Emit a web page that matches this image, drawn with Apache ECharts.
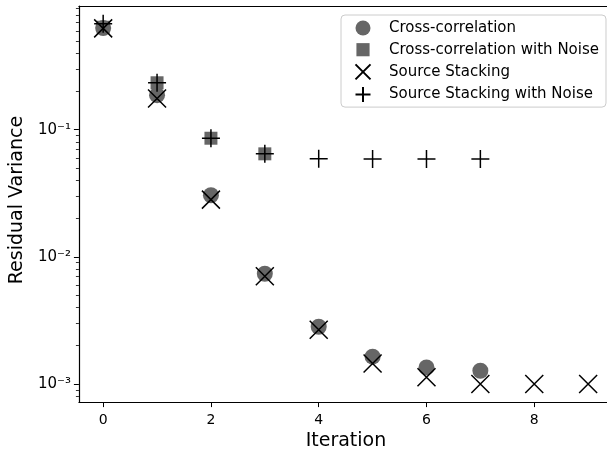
<!DOCTYPE html>
<html>
<head>
<meta charset="utf-8">
<script src="https://cdn.jsdelivr.net/npm/echarts@6/dist/echarts.min.js"></script>
<style>html,body{margin:0;padding:0;background:#fff;}#c{width:607px;height:456px;}</style>
</head>
<body>
<div id="c"></div>
<script>
const iterations = [0, 1, 2, 3, 4, 5, 6, 7, 8, 9];
const crossCorr = [0.63, 0.187, 0.0305, 0.00736, 0.00282, 0.00164, 0.00135, 0.00127];
const crossCorrNoise = [0.64, 0.234, 0.0857, 0.0646];
const sourceStack = [0.627, 0.176, 0.0282, 0.00703, 0.00267, 0.00145, 0.00113, 0.00100, 0.00100, 0.00100];
const sourceStackNoise = [0.682, 0.234, 0.0857, 0.0646, 0.0590, 0.0588, 0.0588, 0.0588];
const seriesNames = ['Cross-correlation', 'Cross-correlation with Noise', 'Source Stacking', 'Source Stacking with Noise'];
const xTickValues = [0, 2, 4, 6, 8];
const yTickValues = [0.001, 0.01, 0.1];
const yTickLabels = ['10\u207B\u00B3', '10\u207B\u00B2', '10\u207B\u00B9'];
const yMinorTickValues = [0.0008, 0.0009, 0.002, 0.003, 0.004, 0.005, 0.006, 0.007, 0.008, 0.009,
  0.02, 0.03, 0.04, 0.05, 0.06, 0.07, 0.08, 0.09, 0.2, 0.3, 0.4, 0.5, 0.6, 0.7, 0.8, 0.9];

function pairs(vals) { return vals.map((v, i) => [iterations[i], v]); }

const FONT = 'DejaVu Sans';
const XPATH = 'path://M0,0L10,10M10,0L0,10';
const PPATH = 'path://M5,0L5,10M0,5L10,5';
const SPATH = 'path://M0,0M0.8,0.8L12.2,0.8L12.2,12.2L0.8,12.2ZM13,13';

function yLabel(v) {
  let best = 0, bd = Infinity;
  yTickValues.forEach((t, i) => {
    const d = Math.abs(Math.log10(Math.abs(v) || 1e-12) - Math.log10(t));
    const d2 = Math.abs(v - Math.log10(t));
    const dd = Math.min(d, d2);
    if (dd < bd) { bd = dd; best = i; }
  });
  return yTickLabels[best];
}

const XMIN = -0.45, XMAX = 9.35, YMIN = 0.00072, YMAX = 0.94;

const chart = echarts.init(document.getElementById('c'), null, { renderer: 'canvas' });
chart.setOption({
  animation: false,
  backgroundColor: '#fff',
  textStyle: { fontFamily: FONT },
  grid: { left: 78, top: 6, right: 0, bottom: 51, show: false, containLabel: false },
  legend: {
    orient: 'vertical', left: 341, top: 15,
    padding: [5, 7, 4, 13.5],
    itemWidth: 15, itemHeight: 15, itemGap: 5.7,
    borderColor: '#cccccc', borderWidth: 1, borderRadius: 4,
    backgroundColor: 'rgba(255,255,255,0.8)',
    textStyle: { fontFamily: FONT, fontSize: 15, color: '#000', lineHeight: 16, padding: [0, 0, 0, 13.5] },
    data: seriesNames
  },
  xAxis: [{
    type: 'value', min: XMIN, max: XMAX,
    name: 'Iteration', nameLocation: 'middle', nameGap: 29,
    nameTextStyle: { fontFamily: FONT, fontSize: 19, color: '#000', padding: [0, 0, 0, 6] },
    axisLine: { show: true, onZero: false, lineStyle: { color: '#000', width: 1.2 } },
    axisTick: { show: true, inside: false, length: 5, lineStyle: { color: '#000', width: 1 }, customValues: xTickValues },
    axisLabel: { fontFamily: FONT, fontSize: 14, color: '#000', margin: 11, customValues: xTickValues },
    splitLine: { show: false }
  }, {
    type: 'value', min: XMIN, max: XMAX, position: 'top',
    axisLine: { show: true, onZero: false, lineStyle: { color: '#000', width: 1.2 } },
    axisTick: { show: false }, axisLabel: { show: false }, splitLine: { show: false }
  }],
  yAxis: [{
    type: 'log', logBase: 10, min: YMIN, max: YMAX,
    name: 'Residual Variance', nameLocation: 'middle', nameGap: 42,
    nameTextStyle: { fontFamily: FONT, fontSize: 19, color: '#000', padding: [0, 0, 0, 8] },
    axisLine: { show: true, onZero: false, lineStyle: { color: '#000', width: 1.2 } },
    axisTick: { show: true, inside: false, length: 5, lineStyle: { color: '#000', width: 1 }, customValues: yTickValues },
    axisLabel: { fontFamily: FONT, fontSize: 15, color: '#000', margin: 8, customValues: yTickValues, formatter: yLabel },
    splitLine: { show: false }
  }, {
    type: 'log', logBase: 10, min: YMIN, max: YMAX, position: 'left', offset: 0,
    axisLine: { show: false, onZero: false },
    axisTick: { show: true, inside: false, length: 3, lineStyle: { color: '#000', width: 0.8 }, customValues: yMinorTickValues },
    axisLabel: { show: false },
    splitLine: { show: false }
  }],
  series: [
    { name: seriesNames[0], type: 'scatter', data: pairs(crossCorr), symbol: 'circle', symbolSize: 16,
      itemStyle: { color: '#666666', opacity: 1 } },
    { name: seriesNames[1], type: 'scatter', data: pairs(crossCorrNoise), symbol: SPATH, symbolSize: 14.8,
      itemStyle: { color: '#666666', opacity: 1 } },
    { name: seriesNames[2], type: 'scatter', data: pairs(sourceStack), symbol: XPATH, symbolSize: 18,
      itemStyle: { color: 'rgba(0,0,0,0)', borderColor: '#000', borderWidth: 1.5, opacity: 1 } },
    { name: seriesNames[3], type: 'scatter', data: pairs(sourceStackNoise), symbol: PPATH, symbolSize: 18,
      itemStyle: { color: 'rgba(0,0,0,0)', borderColor: '#000', borderWidth: 1.5, opacity: 1 } }
  ]
});
</script>
</body>
</html>
